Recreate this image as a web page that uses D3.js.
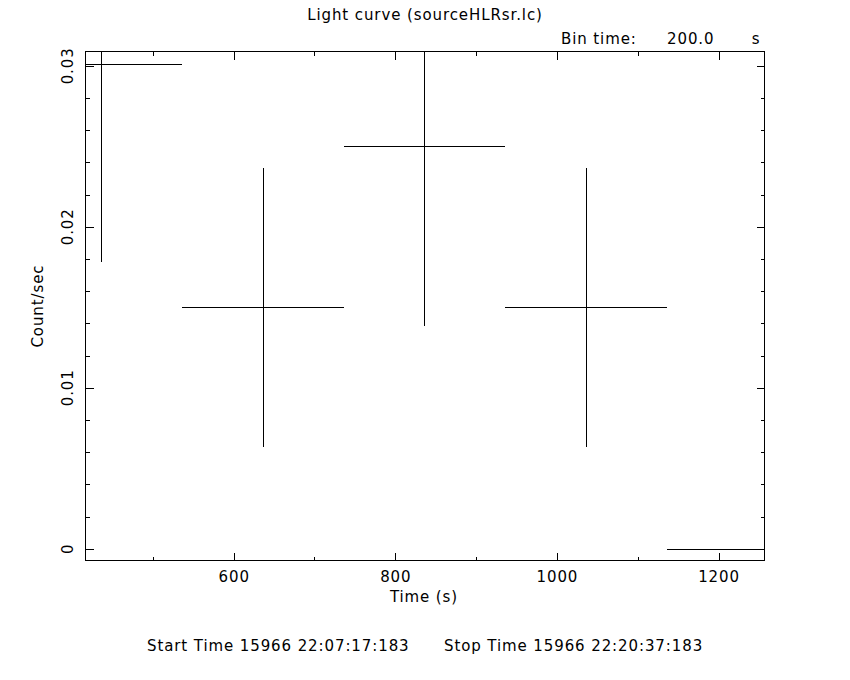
<!DOCTYPE html>
<html>
<head>
<meta charset="utf-8">
<script src="https://cdn.jsdelivr.net/npm/d3@7"></script>
<style>
  html, body { margin: 0; padding: 0; background: #fff; }
  text { font-family: "DejaVu Sans", sans-serif; font-size: 15px; fill: #000; letter-spacing: 0.9px; }
</style>
</head>
<body>
<svg id="chart" width="850" height="680"></svg>
<script>
// ---- data ----
const binCenters = [436, 636, 836, 1036, 1236];      // Time (s)
const binHalfWidth = [100, 100, 100, 100, 100];
const rates = [0.0301, 0.0150, 0.0250, 0.0150, 0.0];  // Count/sec
const rateErrors = [0.0123, 0.00866, 0.01118, 0.00866, 0.0];

const xMajorTicks = [600, 800, 1000, 1200];
const xMinorTicks = [500, 700, 900, 1100];
const yMajorTicks = [0, 0.01, 0.02, 0.03];
const yTickLabels = ["0", "0.01", "0.02", "0.03"];
const yMinorTicks = [0.002, 0.004, 0.006, 0.008, 0.012, 0.014, 0.016, 0.018,
                     0.022, 0.024, 0.026, 0.028, 0.030];
const xDomain = [416.6, 1256.9];
const yDomain = [-0.00073, 0.03089];

const titleText = "Light curve (sourceHLRsr.lc)";
const binTimeLabel = "Bin time:";
const binTimeValue = "200.0";
const binTimeUnit = "s";
const xLabel = "Time (s)";
const yLabel = "Count/sec";
const startText = "Start Time 15966 22:07:17:183";
const stopText = "Stop Time 15966 22:20:37:183";

// ---- layout ----
const L = 85.5, R = 764.5, T = 51.5, B = 560.5;
const svg = d3.select("#chart");

const x = d3.scaleLinear().domain(xDomain).range([L, R]);
const y = d3.scaleLinear().domain(yDomain).range([B, T]);

function styleAxis(g) {
  g.selectAll("path.domain").remove();
  g.selectAll("line").attr("stroke", "#000").attr("stroke-width", 1)
    .attr("shape-rendering", "crispEdges");
  g.selectAll("text").style("font-family", "DejaVu Sans, sans-serif")
    .style("font-size", "15px").style("letter-spacing", "0.9px").attr("fill", "#000");
}

// bottom major
svg.append("g").attr("transform", `translate(0,${B})`)
  .call(d3.axisBottom(x).tickValues(xMajorTicks).tickSize(-8).tickSizeOuter(0)
    .tickPadding(11).tickFormat(d3.format("d")))
  .call(styleAxis);
// bottom minor
svg.append("g").attr("transform", `translate(0,${B})`)
  .call(d3.axisBottom(x).tickValues(xMinorTicks).tickSize(-4).tickSizeOuter(0).tickFormat(""))
  .call(styleAxis);
// top
svg.append("g").attr("transform", `translate(0,${T})`)
  .call(d3.axisTop(x).tickValues(xMajorTicks).tickSize(-8).tickSizeOuter(0).tickFormat(""))
  .call(styleAxis);
svg.append("g").attr("transform", `translate(0,${T})`)
  .call(d3.axisTop(x).tickValues(xMinorTicks).tickSize(-4).tickSizeOuter(0).tickFormat(""))
  .call(styleAxis);
// left
svg.append("g").attr("transform", `translate(${L},0)`)
  .call(d3.axisLeft(y).tickValues(yMajorTicks).tickSize(-8).tickSizeOuter(0).tickFormat(""))
  .call(styleAxis);
svg.append("g").attr("transform", `translate(${L},0)`)
  .call(d3.axisLeft(y).tickValues(yMinorTicks).tickSize(-4).tickSizeOuter(0).tickFormat(""))
  .call(styleAxis);
// right
svg.append("g").attr("transform", `translate(${R},0)`)
  .call(d3.axisRight(y).tickValues(yMajorTicks).tickSize(-8).tickSizeOuter(0).tickFormat(""))
  .call(styleAxis);
svg.append("g").attr("transform", `translate(${R},0)`)
  .call(d3.axisRight(y).tickValues(yMinorTicks).tickSize(-4).tickSizeOuter(0).tickFormat(""))
  .call(styleAxis);

// rotated y tick labels
svg.append("g").selectAll("text").data(yMajorTicks).join("text")
  .attr("transform", (d) => `translate(68,${y(d)}) rotate(-90)`)
  .attr("text-anchor", "middle")
  .attr("dy", "0.36em")
  .text((d, i) => yTickLabels[i]);

// frame
svg.append("rect").attr("x", L).attr("y", T).attr("width", R - L).attr("height", B - T)
  .attr("fill", "none").attr("stroke", "#000").attr("stroke-width", 1)
  .attr("shape-rendering", "crispEdges");

// clip
svg.append("clipPath").attr("id", "plotclip").append("rect")
  .attr("x", L).attr("y", T).attr("width", R - L).attr("height", B - T);

const pts = binCenters.map((c, i) => ({ c, hw: binHalfWidth[i], v: rates[i], e: rateErrors[i] }));
const marks = svg.append("g").attr("clip-path", "url(#plotclip)")
  .attr("stroke", "#000").attr("stroke-width", 1).attr("shape-rendering", "crispEdges");

marks.selectAll("line.h").data(pts).join("line").attr("class", "h")
  .attr("x1", (d) => x(d.c - d.hw)).attr("x2", (d) => x(d.c + d.hw))
  .attr("y1", (d) => Math.round(y(d.v)) + 0.5).attr("y2", (d) => Math.round(y(d.v)) + 0.5);
marks.selectAll("line.v").data(pts.filter((d) => d.e > 0)).join("line").attr("class", "v")
  .attr("x1", (d) => Math.round(x(d.c)) + 0.5).attr("x2", (d) => Math.round(x(d.c)) + 0.5)
  .attr("y1", (d) => y(d.v - d.e)).attr("y2", (d) => y(d.v + d.e));

// texts
svg.append("text").attr("x", 425).attr("y", 20).attr("text-anchor", "middle").text(titleText);
svg.append("text").attr("x", 561).attr("y", 44).text(binTimeLabel);
svg.append("text").attr("x", 667).attr("y", 44).text(binTimeValue);
svg.append("text").attr("x", 756).attr("y", 44).attr("text-anchor", "middle").text(binTimeUnit);
svg.append("text").attr("x", 424).attr("y", 602).attr("text-anchor", "middle").text(xLabel);
svg.append("text").attr("transform", "translate(43,306) rotate(-90)")
  .attr("text-anchor", "middle").text(yLabel);
svg.append("text").attr("x", 147).attr("y", 651).text(startText);
svg.append("text").attr("x", 444).attr("y", 651).text(stopText);
</script>
</body>
</html>
